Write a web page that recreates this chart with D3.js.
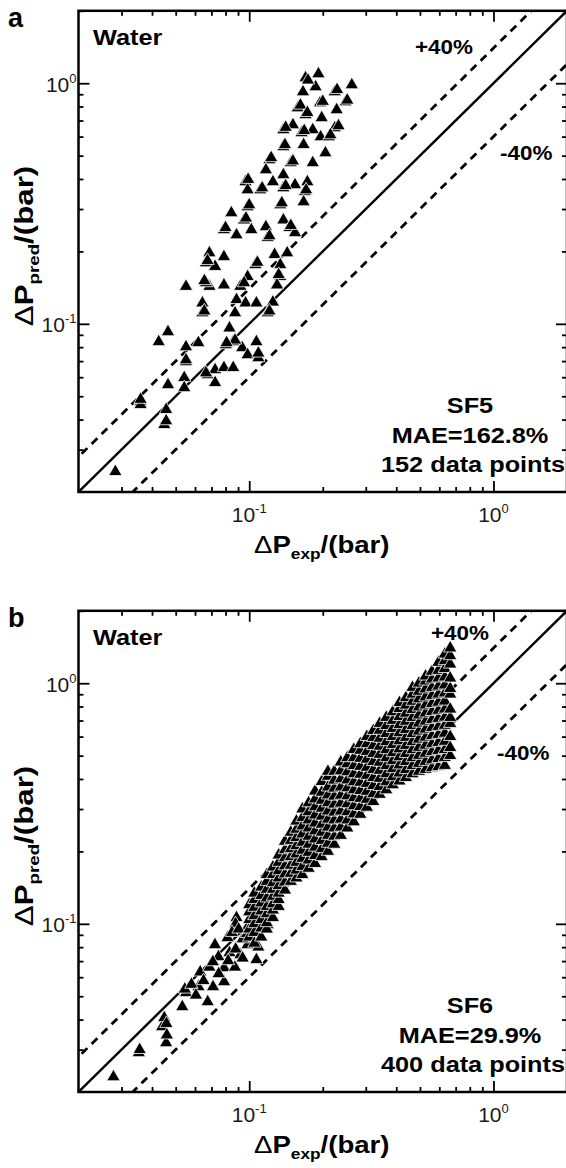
<!DOCTYPE html>
<html>
<head>
<meta charset="utf-8">
<script src="https://cdn.jsdelivr.net/npm/d3@7"></script>
<style>
  html, body { margin: 0; padding: 0; background: #fff; }
  svg { display: block; font-family: "Liberation Sans", Arial, Helvetica, sans-serif; }
</style>
</head>
<body>
<div id="chart"></div>
<script>
(function () {
  'use strict';

  // ---- data ---------------------------------------------------------------
  const DOMAIN = [0.02, 2];
  const MAJOR_TICKS = [0.1, 1];
  const MAJOR_EXPONENTS = ['-1', '0'];
  const MINOR_TICKS = [0.03, 0.04, 0.05, 0.06, 0.07, 0.08, 0.09,
                       0.2, 0.3, 0.4, 0.5, 0.6, 0.7, 0.8, 0.9, 2];
  const GUIDE_FACTORS = [1.4, 1, 0.6];   // +40 %, parity, -40 %

  // SF5: [dP_exp, dP_pred] (bar)
  const SF5_POINTS = [
    [0.192,1.093],[0.263,0.984],[0.170,1.052],[0.187,0.965],[0.224,0.920],[0.248,0.836],
    [0.166,0.920],[0.195,0.828],[0.228,0.775],[0.158,0.789],[0.170,0.739],[0.198,0.718],
    [0.224,0.652],[0.138,0.640],[0.151,0.671],[0.164,0.622],[0.182,0.640],[0.196,0.598],
    [0.212,0.598],[0.138,0.544],[0.167,0.555],[0.205,0.513],[0.121,0.480],[0.117,0.436],
    [0.148,0.467],[0.182,0.467],[0.138,0.416],[0.125,0.389],[0.154,0.378],[0.173,0.389],
    [0.0966,0.389],[0.0985,0.360],[0.111,0.360],[0.138,0.367],[0.169,0.354],[0.167,0.321],
    [0.0985,0.306],[0.134,0.312],[0.0845,0.289],[0.0953,0.270],[0.0788,0.246],[0.0887,0.234],
    [0.102,0.246],[0.117,0.253],[0.119,0.228],[0.138,0.270],[0.146,0.251],[0.154,0.239],
    [0.0687,0.197],[0.0665,0.179],[0.0725,0.173],[0.0788,0.190],[0.0985,0.157],[0.106,0.176],
    [0.127,0.194],[0.143,0.197],[0.134,0.176],[0.0551,0.143],[0.0687,0.143],[0.0788,0.145],
    [0.092,0.143],[0.134,0.157],[0.130,0.145],[0.0665,0.148],[0.0953,0.148],[0.0643,0.122],
    [0.0643,0.111],[0.0887,0.126],[0.0966,0.122],[0.0875,0.111],[0.107,0.122],[0.125,0.123],
    [0.119,0.111],[0.083,0.096],[0.0465,0.0926],[0.0426,0.0842],[0.0551,0.0802],[0.0619,0.0834],
    [0.086,0.0842],[0.0936,0.0795],[0.107,0.0842],[0.0551,0.0695],[0.0676,0.0614],[0.0725,0.0644],
    [0.0788,0.0657],[0.086,0.0657],[0.0725,0.0569],[0.0985,0.0743],[0.109,0.0722],[0.0542,0.0597],
    [0.0542,0.0542],[0.0465,0.0558],[0.0359,0.0474],[0.0359,0.0461],[0.0457,0.044],[0.0449,0.0381],
    [0.0283,0.0243],[0.0802,0.0818],
    [0.174,1.03],[0.229,0.94],[0.252,0.85],[0.2,0.84],[0.162,0.81],[0.173,0.755],
    [0.232,0.665],[0.141,0.655],[0.168,0.635],[0.215,0.61],[0.14,0.555],[0.123,0.49],
    [0.151,0.475],[0.099,0.398],[0.113,0.367],[0.141,0.375],[0.171,0.36],[0.1,0.312],
    [0.136,0.318],[0.08,0.251],[0.097,0.275],[0.121,0.232],[0.148,0.256],[0.0675,0.183],
    [0.108,0.18],[0.132,0.16],[0.0655,0.151],[0.0655,0.113],[0.121,0.113],[0.0875,0.0855],
    [0.0665,0.0625],[0.0551,0.0708],[0.0359,0.0485],[0.0457,0.0395],[0.109,0.0755],[0.0808,0.0834]
  ];

  // SF6: sparse low-pressure points, [dP_exp, dP_pred]
  const SF6_LOW = [
    [0.0278,0.0231],[0.0353,0.0291],[0.0356,0.0300],[0.044,0.0373],[0.0449,0.0407],[0.0457,0.032],
    [0.046,0.0345],[0.0458,0.0385],[0.0532,0.0452],[0.0551,0.0517],[0.0545,0.0535],[0.0676,0.0474],
    [0.062,0.0547],[0.0711,0.0547],[0.0789,0.0574],[0.063,0.063],[0.0687,0.066],[0.0724,0.0818],
    [0.0748,0.0729],[0.083,0.0758],[0.092,0.0743],[0.0789,0.0656],[0.0874,0.066],[0.0887,0.106],
    [0.0879,0.1],[0.0984,0.0818],[0.109,0.080],[0.107,0.0709],[0.102,0.097],[0.119,0.099],
    [0.099,0.098],[0.065,0.058],[0.058,0.056],[0.0605,0.0505],[0.075,0.062],[0.082,0.0702],
    [0.088,0.0785],[0.094,0.0865],[0.071,0.0695],[0.0815,0.0875],[0.094,0.072],[0.098,0.091],
    [0.085,0.092],[0.0905,0.095]
  ];

  // SF6: dense band, one dP_exp value with the dP_pred values read at it
  const SF6_BAND = [
    [0.1,   [0.088,0.095,0.104,0.112,0.12]],
    [0.105, [0.083,0.092,0.1,0.108,0.117,0.126,0.134]],
    [0.112, [0.088,0.096,0.104,0.113,0.122,0.131,0.142]],
    [0.118, [0.095,0.101,0.11,0.118,0.128,0.139,0.15,0.16]],
    [0.125, [0.106,0.114,0.121,0.13,0.139,0.148,0.16,0.172]],
    [0.132, [0.118,0.126,0.134,0.144,0.155,0.166,0.18,0.193]],
    [0.14,  [0.138,0.149,0.161,0.174,0.188,0.203,0.22]],
    [0.148, [0.15,0.162,0.175,0.19,0.205,0.222,0.24]],
    [0.156, [0.155,0.167,0.18,0.195,0.211,0.228,0.247,0.267]],
    [0.165, [0.16,0.173,0.187,0.202,0.218,0.236,0.255,0.276,0.3]],
    [0.175, [0.17,0.184,0.198,0.214,0.231,0.25,0.27,0.292,0.318]],
    [0.186, [0.178,0.192,0.208,0.225,0.243,0.262,0.283,0.306,0.33,0.356]],
    [0.198, [0.19,0.205,0.222,0.24,0.259,0.28,0.302,0.326,0.352,0.39]],
    [0.21,  [0.2,0.216,0.233,0.252,0.272,0.294,0.318,0.343,0.37,0.41,0.43]],
    [0.223, [0.214,0.231,0.25,0.27,0.291,0.314,0.339,0.366,0.395,0.43]],
    [0.237, [0.233,0.252,0.272,0.294,0.317,0.342,0.37,0.4,0.432,0.47]],
    [0.252, [0.25,0.27,0.292,0.315,0.34,0.367,0.396,0.428,0.462,0.49]],
    [0.268, [0.265,0.286,0.309,0.334,0.36,0.389,0.42,0.454,0.49,0.53]],
    [0.285, [0.285,0.307,0.332,0.358,0.387,0.418,0.451,0.487,0.526,0.56]],
    [0.303, [0.305,0.329,0.355,0.383,0.414,0.447,0.483,0.52,0.56,0.6]],
    [0.322, [0.322,0.347,0.375,0.405,0.437,0.472,0.51,0.55,0.594,0.635]],
    [0.342, [0.345,0.372,0.402,0.434,0.469,0.506,0.547,0.59,0.637,0.68]],
    [0.364, [0.36,0.389,0.42,0.454,0.49,0.529,0.571,0.617,0.666,0.72]],
    [0.387, [0.378,0.408,0.441,0.476,0.514,0.555,0.6,0.648,0.7,0.76]],
    [0.412, [0.392,0.423,0.457,0.494,0.533,0.576,0.622,0.672,0.726,0.784,0.83]],
    [0.438, [0.405,0.437,0.472,0.51,0.551,0.595,0.642,0.694,0.75,0.81,0.87]],
    [0.466, [0.42,0.454,0.49,0.529,0.571,0.617,0.666,0.72,0.777,0.84,0.9,0.96]],
    [0.495, [0.43,0.464,0.501,0.541,0.585,0.632,0.682,0.737,0.796,0.86,0.925,1.0]],
    [0.527, [0.438,0.473,0.511,0.552,0.596,0.644,0.695,0.751,0.811,0.876,0.946,1.02,1.07]],
    [0.56,  [0.445,0.48,0.519,0.56,0.605,0.654,0.706,0.762,0.823,0.889,0.96,1.04,1.12]],
    [0.595, [0.45,0.486,0.525,0.567,0.612,0.661,0.714,0.771,0.833,0.9,0.972,1.05,1.13,1.22]],
    [0.632, [0.455,0.491,0.53,0.573,0.619,0.668,0.722,0.78,0.842,0.91,0.982,1.06,1.15,1.24,1.32]],
    [0.665, [0.5,0.54,0.6,0.68,0.72,0.78,0.9,0.95,1.05,1.2,1.3,1.4]]
  ];

  const SF6_POINTS = SF6_LOW.concat(SF6_BAND.flatMap(([xv, ys]) => ys.map(yv => [xv, yv])));

  // ---- layout -------------------------------------------------------------
  const W = 566, H = 1168;
  const PLOT = { left: 78.5, right: 567, top: 10.8, bottom: 492 };
  const SX = 1.15;   // the original lettering is a little wider than Arial

  const PANELS = [
    { id: 'a', dy: 0, points: SF5_POINTS,
      plus: [415, 54], minus: [500, 160],
      notes: ['SF5', 'MAE=162.8%', '152 data points'] },
    { id: 'b', dy: 600, points: SF6_POINTS,
      plus: [431, 40], minus: [497, 160],
      notes: ['SF6', 'MAE=29.9%', '400 data points'] }
  ];

  const svg = d3.select('#chart').append('svg')
    .attr('width', W).attr('height', H)
    .attr('viewBox', `0 0 ${W} ${H}`);
  svg.append('rect').attr('width', W).attr('height', H).attr('fill', '#fff');

  function wideText(parent, x, y, anchor, size, str, weight) {
    return parent.append('text')
      .attr('transform', `translate(${x},${y}) scale(${SX},1)`)
      .attr('text-anchor', anchor)
      .attr('font-size', size)
      .attr('font-weight', weight || 'bold')
      .attr('fill', '#000')
      .text(str);
  }

  // "ΔP_sub/(bar)" with the delta drawn in regular weight
  function deltaTitle(textSel, sub) {
    textSel.append('tspan').attr('font-weight', 'normal').text('\u0394');
    textSel.append('tspan').text('P');
    textSel.append('tspan').attr('font-size', 15).attr('dy', 6).text(sub);
    textSel.append('tspan').attr('dy', -6).text('/(bar)');
  }

  function drawPanel(cfg) {
    const g = svg.append('g').attr('transform', `translate(0,${cfg.dy})`);
    const x = d3.scaleLog().domain(DOMAIN).range([PLOT.left, PLOT.right]);
    const y = d3.scaleLog().domain(DOMAIN).range([PLOT.bottom, PLOT.top]);

    const clipId = 'clip-' + cfg.id;
    g.append('clipPath').attr('id', clipId)
      .append('rect')
      .attr('x', PLOT.left).attr('y', PLOT.top)
      .attr('width', PLOT.right - PLOT.left).attr('height', PLOT.bottom - PLOT.top);

    const inner = g.append('g').attr('clip-path', `url(#${clipId})`);

    // parity and +/-40 % lines
    const line = d3.line().x(d => x(d[0])).y(d => y(d[1]));
    GUIDE_FACTORS.forEach(k => {
      const ends = [DOMAIN[0] / 3, DOMAIN[1] * 3].map(v => [v, v * k]);
      inner.append('path')
        .attr('d', line(ends))
        .attr('fill', 'none')
        .attr('stroke', '#000')
        .attr('stroke-width', k === 1 ? 2.4 : 2.8)
        .attr('stroke-dasharray', k === 1 ? null : '8,6');
    });

    // triangles
    const tri = d3.symbol().type(d3.symbolTriangle).size(78);
    inner.selectAll('path.pt')
      .data(cfg.points)
      .join('path')
      .attr('class', 'pt')
      .attr('d', tri)
      .attr('transform', d => `translate(${x(d[0])},${y(d[1])})`)
      .attr('fill', '#000')
      .attr('stroke', '#fff')
      .attr('stroke-width', 0.8);

    // inward ticks on all four sides
    const sides = [
      { gen: () => d3.axisTop(x), t: `translate(0,${PLOT.bottom})` },
      { gen: () => d3.axisBottom(x), t: `translate(0,${PLOT.top})` },
      { gen: () => d3.axisRight(y), t: `translate(${PLOT.left},0)` },
      { gen: () => d3.axisLeft(y), t: `translate(${PLOT.right},0)` }
    ];
    sides.forEach(s => {
      [[MAJOR_TICKS, 11], [MINOR_TICKS, 5]].forEach(([vals, len]) => {
        const a = g.append('g').attr('transform', s.t)
          .call(s.gen().tickValues(vals).tickSize(len).tickFormat(''));
        a.select('.domain').remove();
        a.selectAll('.tick line').attr('stroke', '#000').attr('stroke-width', 1.8);
      });
    });

    g.append('rect')
      .attr('x', PLOT.left).attr('y', PLOT.top)
      .attr('width', PLOT.right - PLOT.left).attr('height', PLOT.bottom - PLOT.top)
      .attr('fill', 'none').attr('stroke', '#000').attr('stroke-width', 2.5);

    // tick labels 10^n
    MAJOR_TICKS.forEach((v, i) => {
      const tx = g.append('text')
        .attr('x', x(v)).attr('y', PLOT.bottom + 30)
        .attr('text-anchor', 'middle')
        .attr('font-size', 21).attr('fill', '#1a1a1a');
      tx.append('tspan').text('10');
      tx.append('tspan').attr('font-size', 13).attr('dy', -9).text(MAJOR_EXPONENTS[i]);

      const ty = g.append('text')
        .attr('x', PLOT.left - 2).attr('y', y(v) + 8.5)
        .attr('text-anchor', 'end')
        .attr('font-size', 21).attr('fill', '#1a1a1a');
      ty.append('tspan').text('10');
      ty.append('tspan').attr('font-size', 13).attr('dy', -9).text(MAJOR_EXPONENTS[i]);
    });

    // axis titles
    const cx = (PLOT.left + PLOT.right) / 2 - 1;
    deltaTitle(wideText(g, cx, PLOT.bottom + 61, 'middle', 24, ''), 'exp');
    const yt = g.append('text')
      .attr('transform', `translate(33,246) rotate(-90) scale(1.25,1)`)
      .attr('text-anchor', 'middle')
      .attr('font-size', 25).attr('font-weight', 'bold').attr('fill', '#000');
    deltaTitle(yt, 'pred');

    // annotations
    g.append('text').attr('x', 8).attr('y', 27)
      .attr('font-size', 27).attr('font-weight', 'bold').text(cfg.id);
    wideText(g, 93, 45, 'start', 22, 'Water');
    wideText(g, cfg.plus[0], cfg.plus[1], 'start', 19.5, '+40%');
    wideText(g, cfg.minus[0], cfg.minus[1], 'start', 19.5, '-40%');
    cfg.notes.forEach((s, i) => {
      wideText(g, i === 2 ? 473 : 470, 413 + i * 29.5, 'middle', 22, s);
    });
  }

  PANELS.forEach(drawPanel);
})();
</script>
</body>
</html>
